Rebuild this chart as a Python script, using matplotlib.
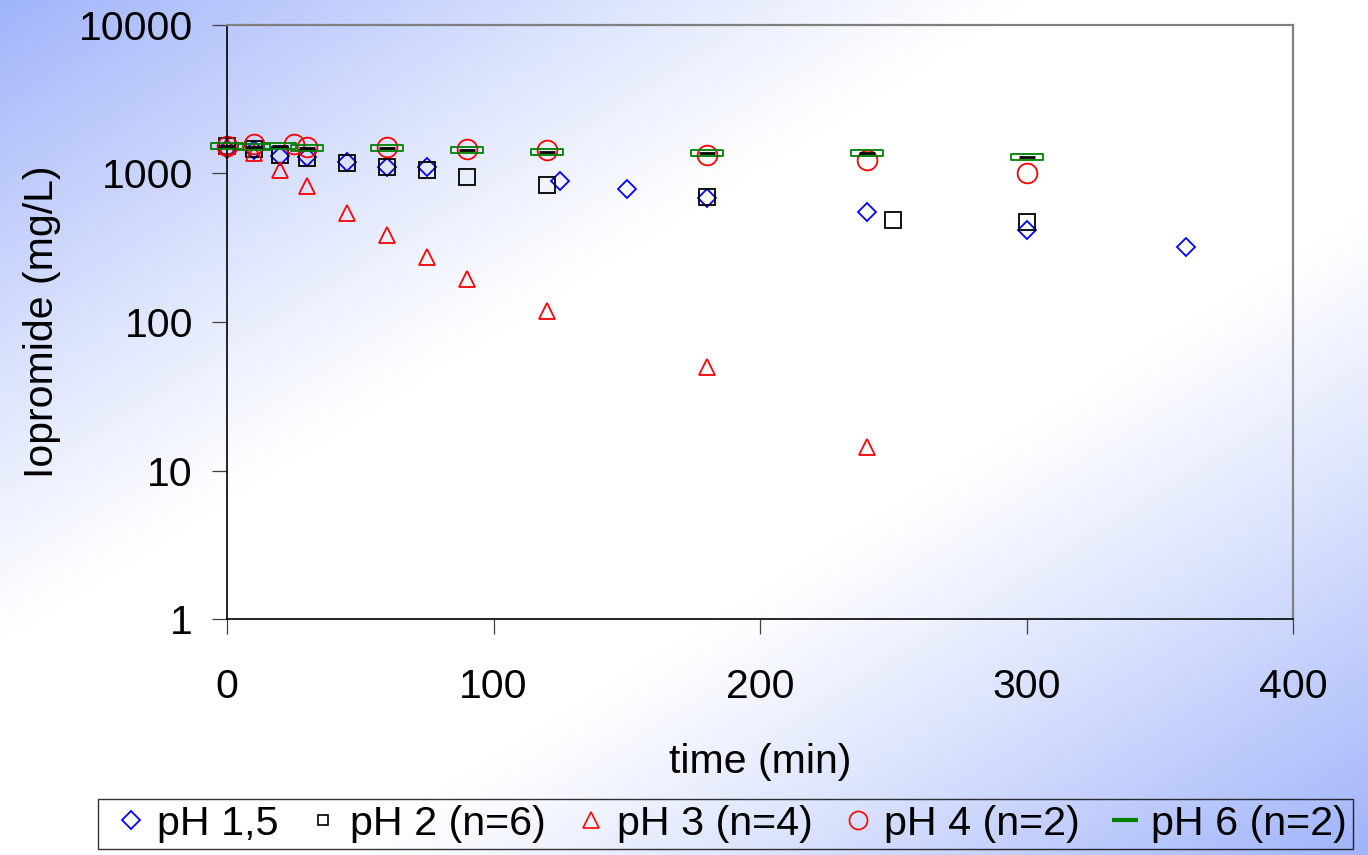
import numpy as np
import matplotlib
matplotlib.use("Agg")
import matplotlib.pyplot as plt
from matplotlib.path import Path
from matplotlib.lines import Line2D

plt.rcParams['font.family'] = ['Liberation Sans', 'DejaVu Sans']

# ---- data ----
t_ph15 = [0, 10, 20, 30, 45, 60, 75, 125, 150, 180, 240, 300, 360]
c_ph15 = [1460, 1440, 1320, 1285, 1190, 1100, 1110, 887, 787, 685, 548, 418, 318]

t_ph2 = [0, 10, 20, 30, 45, 60, 75, 90, 120, 180, 250, 300]
c_ph2 = [1540, 1460, 1330, 1265, 1180, 1100, 1050, 950, 840, 690, 490, 470]

t_ph3 = [0, 10, 20, 30, 45, 60, 75, 90, 120, 180, 240]
c_ph3 = [1540, 1380, 1050, 820, 545, 385, 275, 195, 118, 50, 14.5]

t_ph4 = [0, 10, 25, 30, 60, 90, 120, 180, 240, 300]
c_ph4 = [1540, 1580, 1570, 1500, 1500, 1460, 1440, 1330, 1230, 1010]

t_ph6 = [0, 10, 20, 30, 60, 90, 120, 180, 240, 300]
c_ph6 = [1520, 1500, 1520, 1490, 1480, 1440, 1400, 1370, 1370, 1300]

labels = ['pH 1,5', 'pH 2 (n=6)', 'pH 3 (n=4)', 'pH 4 (n=2)', 'pH 6 (n=2)']
x_ticks = [0, 100, 200, 300, 400]
y_ticks = [1, 10, 100, 1000, 10000]
y_ticklabels = ['1', '10', '100', '1000', '10000']

W, H = 1368, 855
fig = plt.figure(figsize=(W / 100, H / 100), dpi=100)

# background gradient
bg = fig.add_axes([0, 0, 1, 1], zorder=-10)
xx, yy = np.meshgrid(np.linspace(0, 1, 400), np.linspace(0, 1, 250))
d = (xx + yy) / 2.0
w = np.clip((np.abs(2 * d - 1) - 0.25) / 0.75, 0, 1) ** 1.1
blue = np.array([160, 180, 250]) / 255.0
white = np.array([1.0, 1.0, 1.0])
img = white[None, None, :] * (1 - w[..., None]) + blue[None, None, :] * w[..., None]
bg.imshow(img, aspect='auto', extent=[0, 1, 1, 0], interpolation='bilinear')
bg.set_xlim(0, 1)
bg.set_ylim(1, 0)
bg.axis('off')

ax = fig.add_axes([227 / W, 1 - 619 / H, (1293 - 227) / W, (619 - 25) / H])
ax.patch.set_alpha(0)

ax.plot(t_ph15, c_ph15, linestyle='none', marker='D', markersize=9.5,
        markerfacecolor='none', markeredgecolor='#0000ff', markeredgewidth=1.3, clip_on=False)
ax.plot(t_ph2, c_ph2, linestyle='none', marker='s', markersize=12.2,
        markerfacecolor='none', markeredgecolor='#000000', markeredgewidth=1.3, clip_on=False)
ax.plot(t_ph3, c_ph3, linestyle='none', marker='^', markersize=12,
        markerfacecolor='none', markeredgecolor='#ff0000', markeredgewidth=1.3, clip_on=False)
ax.plot(t_ph4, c_ph4, linestyle='none', marker='o', markersize=14.2,
        markerfacecolor='none', markeredgecolor='#ff0000', markeredgewidth=1.3, clip_on=False)

rect = Path([(-1, -0.19), (1, -0.19), (1, 0.19), (-1, 0.19), (-1, -0.19)],
            [Path.MOVETO, Path.LINETO, Path.LINETO, Path.LINETO, Path.CLOSEPOLY])
ax.plot(t_ph6, c_ph6, linestyle='none', marker='_', markersize=12,
        markeredgecolor='black', markeredgewidth=2, zorder=3, clip_on=False)
ax.plot(t_ph6, c_ph6, linestyle='none', marker=rect, markersize=22.5,
        markerfacecolor='none', markeredgecolor='#008000', markeredgewidth=1.3, zorder=3,
        clip_on=False)

ax.set_yscale('log')
ax.set_xlim(0, 400)
ax.set_ylim(1, 10000)
ax.set_xticks(x_ticks)
ax.set_xticklabels([str(v) for v in x_ticks])
ax.set_yticks(y_ticks)
ax.set_yticklabels(y_ticklabels)
ax.yaxis.set_minor_locator(matplotlib.ticker.NullLocator())
ax.tick_params(axis='both', which='major', direction='out', length=10.5, width=0.9,
               color='#404040', labelsize=29.5)
ax.tick_params(axis='x', pad=25)
ax.tick_params(axis='y', pad=14)

for s in ['left', 'bottom']:
    ax.spines[s].set_color('black')
    ax.spines[s].set_linewidth(1.2)
for s in ['top', 'right']:
    ax.spines[s].set_color('#808080')
    ax.spines[s].set_linewidth(1.6)

fig.text(760 / W, 1 - 762 / H, 'time (min)', fontsize=29.5, ha='center', va='center')
fig.text(42 / W, 1 - 322 / H, 'Iopromide (mg/L)', fontsize=29.5, ha='center', va='center',
         rotation=90)

handles = [
    Line2D([], [], linestyle='none', marker='D', markersize=9, markerfacecolor='none',
           markeredgecolor='#0000ff', markeredgewidth=1.3),
    Line2D([], [], linestyle='none', marker='s', markersize=7.5, markerfacecolor='none',
           markeredgecolor='#000000', markeredgewidth=1.2),
    Line2D([], [], linestyle='none', marker='^', markersize=11, markerfacecolor='none',
           markeredgecolor='#ff0000', markeredgewidth=1.2),
    Line2D([], [], linestyle='none', marker='o', markersize=13, markerfacecolor='none',
           markeredgecolor='#ff0000', markeredgewidth=1.2),
    Line2D([], [], linestyle='none', marker='_', markersize=19,
           markeredgecolor='#008000', markeredgewidth=3),
]
leg = fig.legend(handles, labels, loc='center', bbox_to_anchor=(725.5 / W, 1 - 823.8 / H),
                 ncol=5, fontsize=29.7, frameon=True, fancybox=False, edgecolor='black',
                 handlelength=1.28, handletextpad=0.0, columnspacing=0.45,
                 borderpad=0.15, borderaxespad=0)
leg.get_frame().set_facecolor('none')
leg.get_frame().set_linewidth(1.0)

fig.savefig('out.png', dpi=100)
